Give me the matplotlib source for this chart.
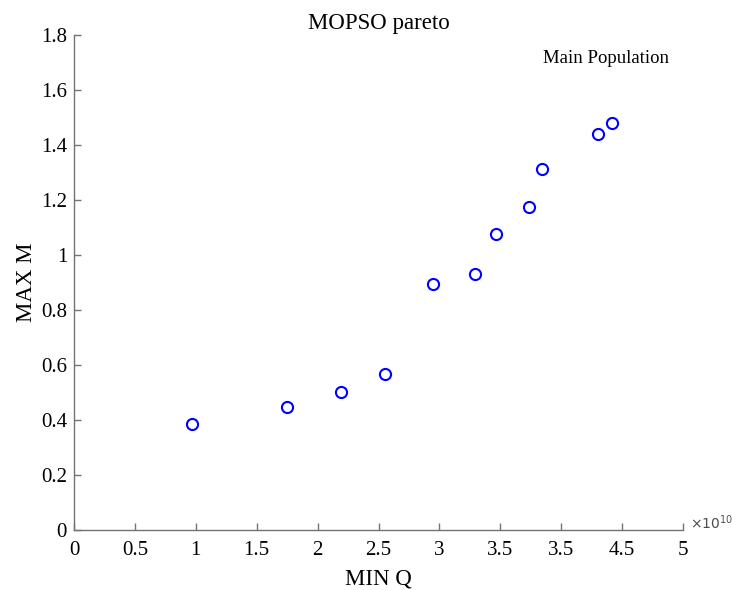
import matplotlib
matplotlib.use("Agg")
import matplotlib.pyplot as plt

# pareto front values, x in units of 1e10
min_q = [0.967, 1.748, 2.194, 2.550, 2.947, 3.289, 3.462, 3.739, 3.843, 4.303, 4.413]
max_m = [0.384, 0.447, 0.503, 0.566, 0.895, 0.932, 1.076, 1.173, 1.314, 1.441, 1.479]
x_scale = 1e10

x_ticks = [0, 0.5, 1, 1.5, 2, 2.5, 3, 3.5, 4, 4.5, 5]
x_tick_labels = ["0", "0.5", "1", "1.5", "2", "2.5", "3", "3.5", "3.5", "4.5", "5"]
y_ticks = [0, 0.2, 0.4, 0.6, 0.8, 1, 1.2, 1.4, 1.6, 1.8]
y_tick_labels = ["0", "0.2", "0.4", "0.6", "0.8", "1", "1.2", "1.4", "1.6", "1.8"]

plt.rcParams["font.family"] = ["Liberation Serif", "DejaVu Serif"]

fig = plt.figure(figsize=(7.32, 5.90), dpi=100)
ax = fig.add_axes([0.1011, 0.1017, 0.8320, 0.8390])

ax.plot([v * x_scale for v in min_q], max_m, linestyle="none", marker="o",
        markersize=8, markerfacecolor="none", markeredgecolor="#0000ff",
        markeredgewidth=1.5)

ax.set_xlim(0, 5 * x_scale)
ax.set_ylim(0, 1.8)
ax.set_xticks([t * x_scale for t in x_ticks])
ax.set_xticklabels(x_tick_labels)
ax.set_yticks(y_ticks)
ax.set_yticklabels(y_tick_labels)

for side in ("top", "right"):
    ax.spines[side].set_visible(False)
for side in ("left", "bottom"):
    ax.spines[side].set_color("0.45")
    ax.spines[side].set_linewidth(1.0)
ax.tick_params(direction="in", length=5, width=1.0, color="0.45",
               labelsize=15, labelcolor="black")
ax.tick_params(axis="x", pad=8)
ax.tick_params(axis="y", pad=5)

ax.set_xlabel("MIN Q", fontsize=16.5, labelpad=6)
ax.set_ylabel("MAX M", fontsize=16.5, labelpad=2.5)
ax.set_title("MOPSO pareto", fontsize=16.5, pad=4.5)

ax.text(3.85 * x_scale, 1.715, "Main Population", fontsize=13.5, va="center")
ax.text(1.012, 0.015, r"$\times10^{10}$", transform=ax.transAxes,
        fontsize=10, family="DejaVu Sans", color="0.3", va="center", ha="left")

fig.savefig("out.png", dpi=100)
